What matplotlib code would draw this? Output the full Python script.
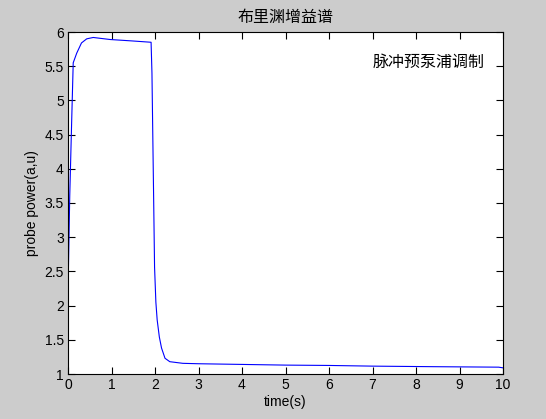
import matplotlib
matplotlib.use("Agg")
import matplotlib.pyplot as plt

plt.rcParams['font.family'] = ['Liberation Sans', 'Noto Sans CJK SC', 'DejaVu Sans']
cjk = ['Noto Sans CJK SC', 'DejaVu Sans']

# probe power
time_s = [0.0, 0.0, 0.04, 0.085, 0.12, 0.2, 0.31, 0.43, 0.58, 0.97, 1.46, 1.91,
          1.93, 1.95, 1.97, 1.99, 2.02, 2.05, 2.10, 2.15, 2.23, 2.34, 2.64,
          3.0, 4.0, 5.0, 6.0, 7.0, 8.4, 9.9, 10.0]
power = [1.76, 2.2, 3.6, 4.71, 5.55, 5.69, 5.84, 5.90, 5.92, 5.89, 5.87, 5.85,
         5.40, 4.45, 3.51, 2.56, 2.05, 1.79, 1.54, 1.38, 1.23, 1.18, 1.156,
         1.15, 1.14, 1.13, 1.125, 1.115, 1.107, 1.10, 1.09]

x_ticks = list(range(0, 11))
y_ticks = [1, 1.5, 2, 2.5, 3, 3.5, 4, 4.5, 5, 5.5, 6]
y_ticklabels = ['1', '1.5', '2', '2.5', '3', '3.5', '4', '4.5', '5', '5.5', '6']

fig = plt.figure(figsize=(5.46, 4.19), dpi=100, facecolor='#cccccc')
ax = fig.add_axes([68/546, 45/419, 435/546, 342/419])
ax.plot(time_s, power, color='blue', linewidth=0.8)

ax.set_xlim(0, 10)
ax.set_ylim(1, 6)
ax.set_xticks(x_ticks)
ax.set_yticks(y_ticks)
ax.set_yticklabels(y_ticklabels)
ax.tick_params(direction='in', top=True, right=True, length=5, width=0.8,
               labelsize=10, pad=3)
for s in ax.spines.values():
    s.set_linewidth(0.8)

ax.set_title('布里渊增益谱', family=cjk, fontsize=11.5, pad=7)
ax.set_xlabel('time(s)', fontsize=10, labelpad=2)
ax.set_ylabel('probe power(a,u)', fontsize=10, labelpad=4)
ax.text(7.0, 5.55, '脉冲预泵浦调制', family=cjk, fontsize=11.5, va='center', ha='left')

fig.savefig('out.png', dpi=100, facecolor=fig.get_facecolor())
